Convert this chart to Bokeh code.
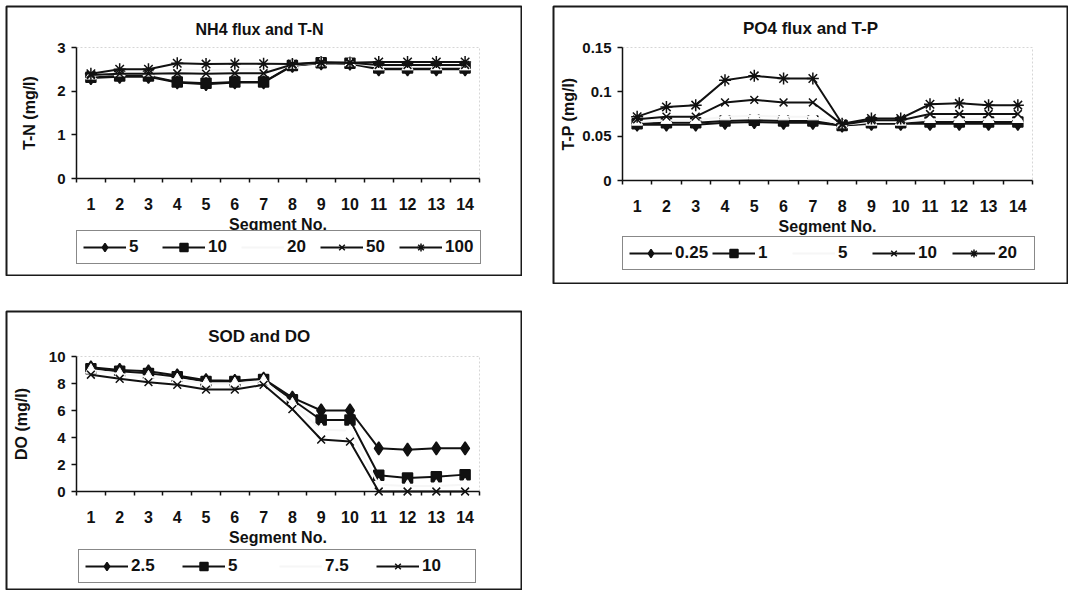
from bokeh.plotting import figure
from bokeh.models import (Range1d, FixedTicker, Legend, LegendItem, ColumnDataSource, Spacer,
                          BoxAnnotation, Label)
from bokeh.layouts import column, row
from bokeh.embed import file_html
from bokeh.resources import INLINE

# ---------------- data ----------------
segments = list(range(1, 15))

tn_names = ["5", "10", "20", "50", "100"]
tn_5 = [2.30, 2.33, 2.33, 2.20, 2.16, 2.20, 2.20, 2.58, 2.64, 2.63, 2.50, 2.50, 2.50, 2.50]
tn_10 = [2.32, 2.35, 2.35, 2.21, 2.18, 2.21, 2.21, 2.59, 2.65, 2.64, 2.53, 2.53, 2.53, 2.53]
tn_20 = [2.35, 2.42, 2.42, 2.50, 2.48, 2.50, 2.50, 2.60, 2.65, 2.65, 2.56, 2.56, 2.56, 2.56]
tn_50 = [2.37, 2.40, 2.40, 2.41, 2.40, 2.41, 2.41, 2.61, 2.65, 2.65, 2.60, 2.60, 2.60, 2.60]
tn_100 = [2.40, 2.50, 2.50, 2.64, 2.62, 2.63, 2.63, 2.62, 2.66, 2.65, 2.67, 2.67, 2.67, 2.67]

tp_names = ["0.25", "1", "5", "10", "20"]
tp_025 = [0.063, 0.063, 0.063, 0.065, 0.066, 0.065, 0.065, 0.062, 0.064, 0.064, 0.064, 0.064, 0.064, 0.064]
tp_1 = [0.064, 0.065, 0.065, 0.067, 0.068, 0.067, 0.067, 0.062, 0.065, 0.065, 0.066, 0.066, 0.066, 0.066]
tp_5 = [0.066, 0.068, 0.068, 0.072, 0.073, 0.072, 0.072, 0.063, 0.066, 0.066, 0.069, 0.069, 0.069, 0.069]
tp_10 = [0.069, 0.072, 0.072, 0.088, 0.091, 0.088, 0.088, 0.063, 0.068, 0.068, 0.075, 0.075, 0.075, 0.075]
tp_20 = [0.072, 0.083, 0.085, 0.113, 0.118, 0.115, 0.115, 0.064, 0.070, 0.070, 0.086, 0.087, 0.085, 0.085]

do_names = ["2.5", "5", "7.5", "10"]
do_25 = [9.2, 9.0, 8.9, 8.6, 8.25, 8.2, 8.35, 6.95, 6.0, 6.0, 3.2, 3.1, 3.2, 3.2]
do_5 = [9.1, 8.9, 8.75, 8.5, 8.15, 8.15, 8.3, 6.8, 5.3, 5.3, 1.2, 1.0, 1.1, 1.25]
do_75 = [9.0, 8.7, 8.5, 8.3, 8.0, 8.0, 8.2, 6.5, 4.6, 4.5, 0.5, 0.4, 0.4, 0.5]
do_10 = [8.65, 8.35, 8.1, 7.9, 7.55, 7.55, 7.9, 6.1, 3.85, 3.7, 0.0, 0.0, 0.0, 0.0]

tn_ticks = [0, 1, 2, 3]
tp_ticks = [0, 0.05, 0.1, 0.15]
tp_tick_labels = ["0", "0.05", "0.1", "0.15"]
do_ticks = [0, 2, 4, 6, 8, 10]

FONT = "Liberation Sans"
INK = "#111111"
SIZES = {"diamond": 13, "square": 10, "x": 11, "asterisk": 12, "triangle": 11}


def make_panel(title, ylabel, names, values, markers, light, yticks, ylabels, ymax,
               width, height, area, title_y, title_size, ylabel_standoff,
               label_width, legend_pos):
    # area = plot-area pixel box inside the frame: left, right, top, zero-line
    fw, fh = width - 2, height - 2
    L, R, T, Z = area
    ppx = (R - L) / 14.0
    ppy = (Z - T) / ymax
    x0 = 0.5 - L / ppx
    x1 = 14.5 + (fw - R) / ppx
    y1 = ymax + T / ppy
    y0 = -(fh - Z) / ppy

    p = figure(width=width, height=height, output_backend="svg", toolbar_location=None,
               x_range=Range1d(x0, x1), y_range=Range1d(y0, y1),
               min_border_left=1, min_border_top=1, min_border_right=1, min_border_bottom=1)
    p.title.text = ""
    p.title.visible = False
    p.xgrid.visible = False
    p.ygrid.visible = False
    p.outline_line_color = "#1a1a1a"
    p.outline_line_width = 2
    p.background_fill_color = "white"
    p.border_fill_color = "white"

    # dotted plot-area border
    p.add_layout(BoxAnnotation(left=0.5, right=14.5, bottom=0, top=ymax, level="underlay",
                               fill_alpha=0, line_color="#777777", line_dash="2 2",
                               line_width=1))

    # chart title
    p.add_layout(Label(x=(x0 + x1) / 2, y=ymax + (T - title_y) / ppy, text=title,
                       text_align="center", text_baseline="middle", text_font=FONT,
                       text_font_style="bold", text_font_size=title_size, text_color=INK))

    xa = p.xaxis[0]
    xa.fixed_location = 0
    xa.bounds = (0.5, 14.5)
    xa.ticker = FixedTicker(ticks=segments, minor_ticks=[i + 0.5 for i in range(15)])
    xa.major_tick_line_color = None
    xa.major_tick_in = 0
    xa.major_tick_out = 0
    xa.minor_tick_in = 0
    xa.minor_tick_out = 4
    xa.minor_tick_line_color = INK
    xa.minor_tick_line_width = 1.5
    xa.axis_line_color = INK
    xa.axis_line_width = 1.5
    xa.major_label_standoff = 15
    xa.major_label_text_font = FONT
    xa.major_label_text_font_style = "bold"
    xa.major_label_text_font_size = "16px"
    xa.major_label_text_color = INK
    xa.axis_label = "Segment No."
    xa.axis_label_standoff = 3
    xa.axis_label_text_font = FONT
    xa.axis_label_text_font_style = "bold"
    xa.axis_label_text_font_size = "16px"
    xa.axis_label_text_color = INK

    ya = p.yaxis[0]
    ya.fixed_location = 0.5
    ya.bounds = (0, ymax)
    ya.ticker = FixedTicker(ticks=yticks, minor_ticks=[])
    ya.major_label_overrides = {t: l for t, l in zip(yticks, ylabels)}
    ya.major_tick_in = 0
    ya.major_tick_out = 5
    ya.major_tick_line_color = INK
    ya.major_tick_line_width = 1.5
    ya.minor_tick_line_color = None
    ya.axis_line_color = INK
    ya.axis_line_width = 1.5
    ya.major_label_standoff = 6
    ya.major_label_text_font = FONT
    ya.major_label_text_font_style = "bold"
    ya.major_label_text_font_size = "15px"
    ya.major_label_text_color = INK
    ya.axis_label = ylabel
    ya.axis_label_standoff = ylabel_standoff
    ya.axis_label_text_font = FONT
    ya.axis_label_text_font_style = "bold"
    ya.axis_label_text_font_size = "16px"
    ya.axis_label_text_color = INK

    items = []
    for i, (name, vals, mk) in enumerate(zip(names, values, markers)):
        src = ColumnDataSource(dict(x=segments, y=vals))
        if i == light:
            ln = p.line("x", "y", source=src, line_color="#f6f6f6", line_width=2)
            p.scatter("x", "y", source=src, marker=mk, size=SIZES[mk], fill_color="white",
                      line_color="white", line_width=1)
            items.append(LegendItem(label=name, renderers=[ln]))
        else:
            ln = p.line("x", "y", source=src, line_color=INK, line_width=2)
            sc = p.scatter("x", "y", source=src, marker=mk, size=SIZES[mk], fill_color=INK,
                           line_color=INK, line_width=1.5)
            items.append(LegendItem(label=name, renderers=[ln, sc]))

    leg = Legend(items=items, orientation="horizontal", location=legend_pos)
    leg.glyph_width = 43
    leg.glyph_height = 20
    leg.label_standoff = 3
    leg.label_width = label_width
    leg.spacing = 4
    leg.padding = 6
    leg.margin = 0
    leg.border_line_color = INK
    leg.border_line_width = 1.5
    leg.background_fill_color = "white"
    leg.background_fill_alpha = 1
    leg.label_text_font = FONT
    leg.label_text_font_style = "bold"
    leg.label_text_font_size = "17px"
    leg.label_text_color = INK
    p.add_layout(leg, "center")
    return p


p1 = make_panel("NH4 flux  and  T-N", "T-N (mg/l)", tn_names,
                [tn_5, tn_10, tn_20, tn_50, tn_100],
                ["diamond", "square", "triangle", "x", "asterisk"], 2,
                tn_ticks, [str(t) for t in tn_ticks], 3,
                517, 271, (70, 473, 41, 172), 23, "16px", 16, 29, (70, 11))

p2 = make_panel("PO4 flux and T-P", "T-P (mg/l)", tp_names,
                [tp_025, tp_1, tp_5, tp_10, tp_20],
                ["diamond", "square", "triangle", "x", "asterisk"], 2,
                tp_ticks, tp_tick_labels, 0.15,
                516, 279, (69, 479, 41, 174), 22, "17px", 2, 30, (69, 13))

p3 = make_panel("SOD  and  DO", "DO (mg/l)", do_names,
                [do_25, do_5, do_75, do_10],
                ["diamond", "square", "triangle", "x"], 2,
                do_ticks, [str(t) for t in do_ticks], 10,
                517, 280, (70, 473, 45, 180), 25, "17px", 16, 47, (72, 6))

layout = column(
    Spacer(width=10, height=5),
    row(Spacer(width=5, height=10), p1, Spacer(width=30, height=10), p2),
    Spacer(width=10, height=26),
    row(Spacer(width=5, height=10), p3),
)
open("out.html", "w").write(file_html(layout, INLINE))
